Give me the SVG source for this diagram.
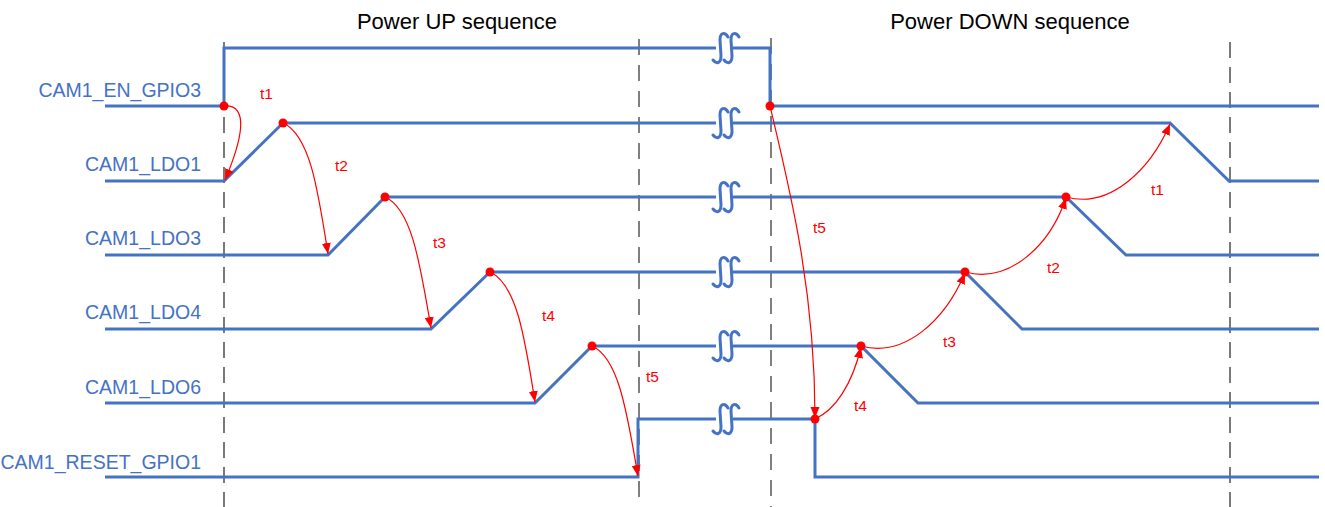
<svg xmlns="http://www.w3.org/2000/svg" xmlns:xlink="http://www.w3.org/1999/xlink" width="1325" height="507" viewBox="0 0 1325 507">
<style>
.sig{fill:none;stroke:#4472C4;stroke-width:3;stroke-linejoin:miter}
.brk{fill:none;stroke:#4472C4;stroke-width:3;stroke-linecap:round}
.lbl{font-family:"Liberation Sans",Arial,sans-serif;font-size:19.5px;fill:#4472C4;text-anchor:end}
.ttl{font-family:"Liberation Sans",Arial,sans-serif;font-size:22px;fill:#000;text-anchor:middle}
.tl{font-family:"Liberation Sans",Arial,sans-serif;font-size:15.5px;fill:#FF0000}
.arr{fill:none;stroke:#FF0000;stroke-width:1.2}
.dot{fill:#FF0000}
.dg{stroke:#595959;stroke-width:1.6;stroke-dasharray:16 9}
.dk{stroke:#000;stroke-width:1;stroke-dasharray:16 10}
</style>
<defs>
<path id="brk" class="brk" d="M8,-11 C5,-16 0,-16 0,-8 L1,8 C1,16 -4,16 -7,12 M19,-11 C16,-16 11,-16 11,-8 L12,8 C12,16 7,16 4,12"/>
<marker id="ah" markerUnits="userSpaceOnUse" markerWidth="12" markerHeight="10" refX="11" refY="4.5" orient="auto">
<path d="M0,0 L11,4.5 L0,9 z" fill="#FF0000"/>
</marker>
</defs>
<rect width="1325" height="507" fill="#fff"/>
<g id="guides">
<line class="dg" x1="224" y1="42" x2="224" y2="507"/>
<line class="dk" x1="639" y1="39" x2="639" y2="507"/>
<line class="dk" x1="771" y1="38" x2="771" y2="507"/>
<line class="dg" x1="1230" y1="42" x2="1230" y2="507"/>
</g>
<g id="titles">
<text class="ttl" x="457" y="29">Power UP sequence</text>
<text class="ttl" x="1010" y="29">Power DOWN sequence</text>
</g>
<g id="CAM1_EN_GPIO3">
<text class="lbl" x="201" y="97">CAM1_EN_GPIO3</text>
<polyline class="sig" points="105,106 224,106 224,48 716,48"/>
<polyline class="sig" points="733,48 770,48 770,106 1319,106"/>
<use xlink:href="#brk" href="#brk" x="720" y="48"/>
</g>
<g id="CAM1_LDO1">
<text class="lbl" x="201" y="171">CAM1_LDO1</text>
<polyline class="sig" points="105,181 224,181 283,123 716,123"/>
<polyline class="sig" points="733,123 1170,123 1229,181 1319,181"/>
<use xlink:href="#brk" href="#brk" x="720" y="123"/>
</g>
<g id="CAM1_LDO3">
<text class="lbl" x="201" y="245">CAM1_LDO3</text>
<polyline class="sig" points="105,255 328,255 385,197 716,197"/>
<polyline class="sig" points="733,197 1066,197 1126,255 1319,255"/>
<use xlink:href="#brk" href="#brk" x="720" y="197"/>
</g>
<g id="CAM1_LDO4">
<text class="lbl" x="201" y="319">CAM1_LDO4</text>
<polyline class="sig" points="105,329 431,329 490,272 716,272"/>
<polyline class="sig" points="733,272 965,272 1022,329 1319,329"/>
<use xlink:href="#brk" href="#brk" x="720" y="272"/>
</g>
<g id="CAM1_LDO6">
<text class="lbl" x="201" y="394">CAM1_LDO6</text>
<polyline class="sig" points="105,403 535,403 592,346 716,346"/>
<polyline class="sig" points="733,346 861,346 918,403 1319,403"/>
<use xlink:href="#brk" href="#brk" x="720" y="346"/>
</g>
<g id="CAM1_RESET_GPIO1">
<text class="lbl" x="201" y="469">CAM1_RESET_GPIO1</text>
<polyline class="sig" points="105,477 638,477 638,419 716,419"/>
<polyline class="sig" points="733,419 815,419 815,477 1319,477"/>
<use xlink:href="#brk" href="#brk" x="720" y="419"/>
</g>
<g id="connectors">
<path class="arr" marker-end="url(#ah)" d="M224,106 C250,104 242,140 225,180"/>
<path class="arr" marker-end="url(#ah)" d="M283,123 C310,135 318,190 328,254"/>
<path class="arr" marker-end="url(#ah)" d="M385,197 C412,209 420,264 431,328"/>
<path class="arr" marker-end="url(#ah)" d="M490,272 C517,284 525,339 535,402"/>
<path class="arr" marker-end="url(#ah)" d="M592,346 C619,358 627,413 638,476"/>
<path class="arr" marker-end="url(#ah)" d="M770,106 C790,190 815,290 815,418"/>
<path class="arr" marker-end="url(#ah)" d="M815,419 C835,410 852,385 861,347"/>
<path class="arr" marker-end="url(#ah)" d="M861,346 C905,358 945,320 965,273"/>
<path class="arr" marker-end="url(#ah)" d="M965,272 C1010,284 1050,245 1066,198"/>
<path class="arr" marker-end="url(#ah)" d="M1066,197 C1110,209 1150,170 1170,124"/>
</g>
<g id="dots">
<circle class="dot" cx="224" cy="106" r="4.5"/>
<circle class="dot" cx="283" cy="123" r="4.5"/>
<circle class="dot" cx="385" cy="197" r="4.5"/>
<circle class="dot" cx="490" cy="272" r="4.5"/>
<circle class="dot" cx="592" cy="346" r="4.5"/>
<circle class="dot" cx="770" cy="106" r="4.5"/>
<circle class="dot" cx="815" cy="419" r="4.5"/>
<circle class="dot" cx="861" cy="346" r="4.5"/>
<circle class="dot" cx="965" cy="272" r="4.5"/>
<circle class="dot" cx="1066" cy="197" r="4.5"/>
</g>
<g id="timing-labels">
<text class="tl" x="260" y="99">t1</text>
<text class="tl" x="335" y="171">t2</text>
<text class="tl" x="433" y="248">t3</text>
<text class="tl" x="542" y="321">t4</text>
<text class="tl" x="646" y="382">t5</text>
<text class="tl" x="813" y="233">t5</text>
<text class="tl" x="854" y="411">t4</text>
<text class="tl" x="943" y="347">t3</text>
<text class="tl" x="1047" y="273">t2</text>
<text class="tl" x="1151" y="195">t1</text>
</g>
</svg>
